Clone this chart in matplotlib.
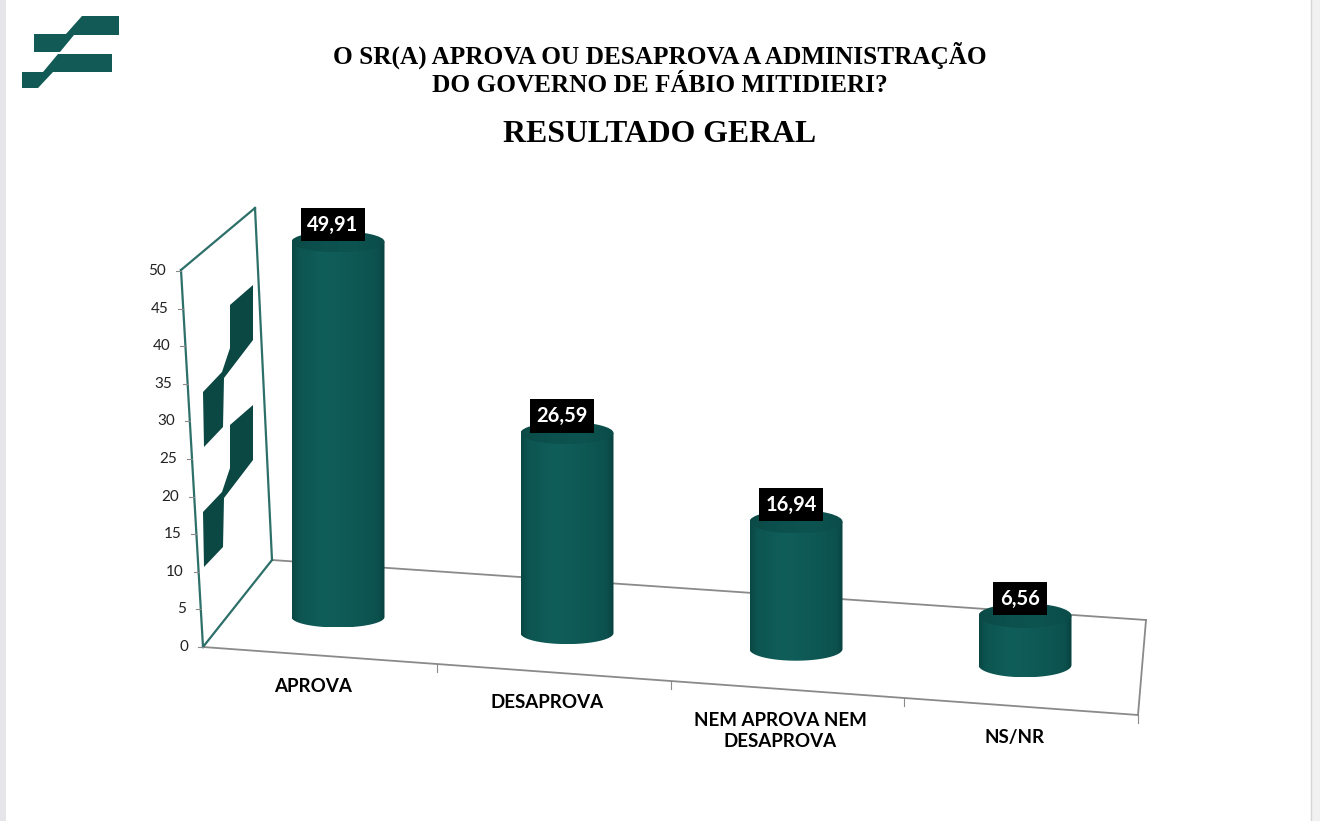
import numpy as np
import matplotlib
matplotlib.use("Agg")
import matplotlib.pyplot as plt
from matplotlib import transforms as mtransforms
from matplotlib.patches import Polygon, Ellipse, Rectangle
from matplotlib.lines import Line2D
from matplotlib.colors import LinearSegmentedColormap

# ---------------- data ----------------
categories = ["APROVA", "DESAPROVA", "NEM APROVA NEM\nDESAPROVA", "NS/NR"]
values = [49.91, 26.59, 16.94, 6.56]
value_labels = ["49,91", "26,59", "16,94", "6,56"]
y_ticks = [0, 5, 10, 15, 20, 25, 30, 35, 40, 45, 50]
title_lines = ["O SR(A) APROVA OU DESAPROVA A ADMINISTRAÇÃO",
               "DO GOVERNO DE FÁBIO MITIDIERI?"]
subtitle = "RESULTADO GERAL"

# ---------------- layout / style ----------------
W, H = 1320, 821
fig = plt.figure(figsize=(W / 100, H / 100), dpi=100)
fig.patch.set_facecolor("white")
PX = mtransforms.Affine2D().scale(1 / W, -1 / H).translate(0, 1) + fig.transFigure

SANS = ["Lato", "DejaVu Sans"]
SERIF = ["Liberation Serif", "DejaVu Serif"]
TEAL = "#2d6f69"
GRID = "#8a8a8a"
LOGO = "#125a55"

# page edges
fig.patches.append(Rectangle((0, 0), 6, H, transform=PX, fc="#e6e6ea", ec="none"))
fig.patches.append(Rectangle((1311, 0), 9, H, transform=PX, fc="#f1f1f1", ec="none"))
fig.lines.append(Line2D([1311, 1311], [0, H], transform=PX, color="#d6d6d6", lw=1))

# corner logo
logo_a = [(34, 52), (34, 34), (66, 34), (82, 16), (119, 16), (119, 35), (74, 35), (60, 52)]
logo_b = [(22, 88), (22, 72), (43, 72), (58, 54), (112, 54), (112, 72), (53, 72), (38, 88)]
for pts in (logo_a, logo_b):
    fig.patches.append(Polygon(pts, closed=True, transform=PX, fc=LOGO, ec="none"))

# titles
for k, line in enumerate(title_lines):
    fig.text(660, 55 + 30 * k, line, transform=PX, ha="center", va="center",
             family=SERIF, fontweight="bold", fontsize=18.2, color="black")
fig.text(660, 135, subtitle, transform=PX, ha="center", va="center",
         family=SERIF, fontweight="bold", fontsize=22.9, color="black")

# ---------------- 3D-like frame (pixel geometry) ----------------
BACK_L, BACK_R = (272, 560), (1146, 620)
FRONT_L, FRONT_R = (203, 647), (1138, 715)
WALL_BT, WALL_FT = (255, 208), (181, 270)

def seg(p, q, color, lw=1.3, z=1):
    fig.lines.append(Line2D([p[0], q[0]], [p[1], q[1]], transform=PX,
                            color=color, lw=lw, zorder=z))

seg(BACK_L, BACK_R, GRID)
seg(FRONT_L, FRONT_R, GRID)
seg(BACK_R, FRONT_R, GRID)
seg(FRONT_L, BACK_L, TEAL, 1.6)
seg(BACK_L, WALL_BT, TEAL, 1.6)
seg(FRONT_L, WALL_FT, TEAL, 1.6)
seg(WALL_FT, WALL_BT, TEAL, 1.6)

# wall watermark logo
wall_logo = [(230, 305), (253, 285), (253, 340), (224, 378), (223, 427),
             (204, 447), (203, 392), (222, 372), (230, 348)]
for dy in (0, 120):
    fig.patches.append(Polygon([(x, y + dy) for x, y in wall_logo], closed=True,
                               transform=PX, fc="#0b4843", ec="none"))

# y axis ticks along the front wall edge
ymax = y_ticks[-1]
for t in y_ticks:
    f = t / ymax
    ex = FRONT_L[0] + (WALL_FT[0] - FRONT_L[0]) * f
    ey = FRONT_L[1] + (WALL_FT[1] + 1 - FRONT_L[1]) * f
    fig.lines.append(Line2D([ex - 5, ex], [ey, ey], transform=PX, color=GRID, lw=0.8))
    fig.text(ex - 15, ey, str(t), transform=PX, ha="right", va="center",
             family=SANS, fontsize=11, color="#222222")

# category ticks and labels along the front floor edge
n = len(categories)
for k in range(1, n + 1):
    f = k / n
    x = FRONT_L[0] + (FRONT_R[0] - FRONT_L[0]) * f
    y = FRONT_L[1] + (FRONT_R[1] - FRONT_L[1]) * f
    fig.lines.append(Line2D([x, x], [y, y + 8], transform=PX, color=GRID, lw=0.8))
for i, cat in enumerate(categories):
    f = (i + 0.5) / n
    x = FRONT_L[0] + (FRONT_R[0] - FRONT_L[0]) * f - 7
    y = FRONT_L[1] + (FRONT_R[1] - FRONT_L[1]) * f
    fig.text(x, y + 22, cat, transform=PX, ha="center", va="top", family=SANS,
             fontweight="bold", fontsize=13.5, color="black", linespacing=1.3)

# ---------------- cylinders through a data axes ----------------
X0, DX = 338, 229          # pixel x of first category, spacing
BASE0, PXU, DEPTH = 617, 7.52, 16   # base pixel y, px per unit, floor drop per category
ax = fig.add_axes([0, 0, 1, 1], zorder=2)
ax.set_facecolor("none")
ax.axis("off")

def floor(i):
    return -DEPTH / PXU * i

w = 46.5 / DX

body_cmap = LinearSegmentedColormap.from_list(
    "body", [(0.0, "#094744"), (0.08, "#0d5551"), (0.35, "#105e5a"),
             (0.7, "#0e5854"), (0.92, "#0c514e"), (1.0, "#08423f")])
top_cmap = LinearSegmentedColormap.from_list(
    "top", ["#0b4a47", "#0c514e", "#0d5350", "#0b4c49"])
grad = np.linspace(0, 1, 256).reshape(1, -1)

th = np.linspace(0, -np.pi, 60)
for i, v in enumerate(values):
    eh = (10.5 + 0.6 * i) / PXU
    b = floor(i)
    t = b + v
    xs = [i - w, i + w] + list(i + w * np.cos(th)) + [i - w]
    ys = [t, t] + list(b + eh * np.sin(th)) + [t]
    body = Polygon(np.column_stack([xs, ys]), closed=True, transform=ax.transData,
                   fc="none", ec="none")
    im = ax.imshow(grad, cmap=body_cmap, extent=[i - w, i + w, b - eh, t],
                   aspect="auto", interpolation="bicubic", zorder=3)
    im.set_clip_path(body)
    top = Ellipse((i, t), 2 * w, 2 * eh, transform=ax.transData, fc="none", ec="none")
    im2 = ax.imshow(grad, cmap=top_cmap, extent=[i - w, i + w, t - eh, t + eh],
                    aspect="auto", interpolation="bicubic", zorder=4)
    im2.set_clip_path(top)
    ax.annotate(value_labels[i], xy=(i, t), xytext=(-5, 17), textcoords="offset pixels",
                ha="center", va="center", color="white", family=SANS,
                fontweight="bold", fontsize=14.5, zorder=6,
                bbox=dict(boxstyle="square,pad=0.33", fc="black", ec="none"))

ax.set_xlim(-X0 / DX, (W - X0) / DX)
ax.set_ylim(-(H - BASE0) / PXU, BASE0 / PXU)

fig.savefig("out.png", dpi=100, facecolor="white")
